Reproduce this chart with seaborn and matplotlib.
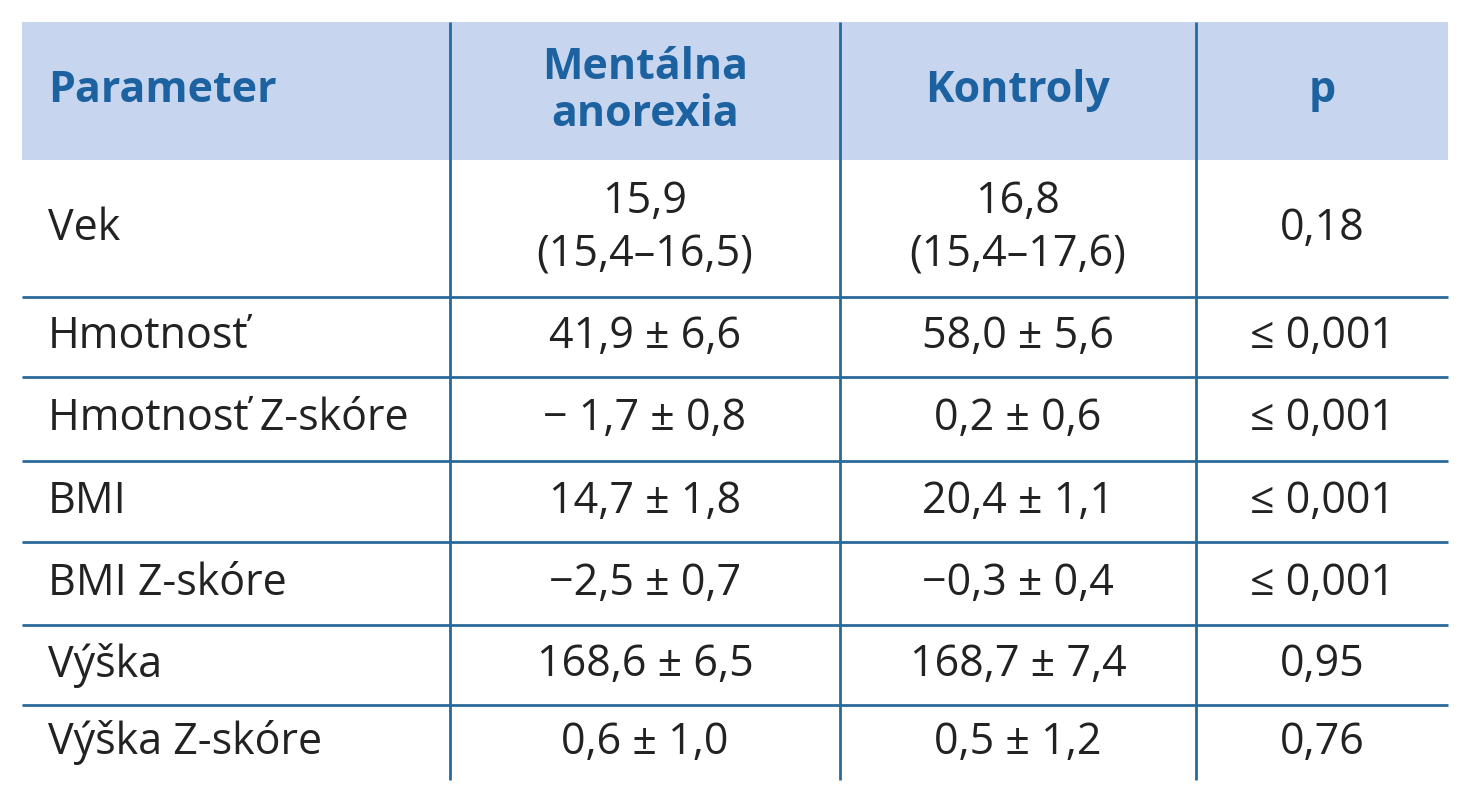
import matplotlib.pyplot as plt
import seaborn as sns

header = ['Parameter', 'Mentálna\nanorexia', 'Kontroly', 'p']
parameters = ['Vek', 'Hmotnosť', 'Hmotnosť Z-skóre', 'BMI', 'BMI Z-skóre',
              'Výška', 'Výška Z-skóre']
anorexia = ['15,9\n(15,4–16,5)', '41,9 ± 6,6', '− 1,7 ± 0,8', '14,7 ± 1,8',
            '−2,5 ± 0,7', '168,6 ± 6,5', '0,6 ± 1,0']
controls = ['16,8\n(15,4–17,6)', '58,0 ± 5,6', '0,2 ± 0,6', '20,4 ± 1,1',
            '−0,3 ± 0,4', '168,7 ± 7,4', '0,5 ± 1,2']
p_values = ['0,18', '≤ 0,001', '≤ 0,001', '≤ 0,001', '≤ 0,001', '0,95', '0,76']

# layout in pixels
col_edges = [22, 450, 840, 1196, 1448]
row_edges = [22, 160, 297, 377, 461, 542, 625, 705, 780]
blue = '#1d62a0'
head_bg = '#c7d6ee'
line_c = '#2a6a9a'

sns.set_style('white')
plt.rcParams['font.family'] = ['Liberation Sans Narrow', 'Open Sans', 'DejaVu Sans']

fig = plt.figure(figsize=(14.84, 8), dpi=100)
ax = fig.add_axes([0, 0, 1, 1])
ax.set_xlim(0, 1484)
ax.set_ylim(800, 0)
ax.axis('off')

ax.fill_between([col_edges[0], col_edges[-1]], row_edges[0], row_edges[1],
                color=head_bg, lw=0)
ax.vlines(col_edges[1:-1], row_edges[0], row_edges[-1], color=line_c, lw=2)
ax.hlines(row_edges[2:-1], col_edges[0], col_edges[-1], color=line_c, lw=2)

fs = 31
for j, h in enumerate(header):
    yc = (row_edges[0] + row_edges[1]) / 2
    if j == 0:
        ax.text(col_edges[0] + 26, yc, h, ha='left', va='center', fontsize=fs,
                fontweight='bold', color=blue, linespacing=1.15)
    else:
        ax.text((col_edges[j] + col_edges[j + 1]) / 2, yc, h, ha='center',
                va='center', fontsize=fs, fontweight='bold', color=blue,
                linespacing=1.15)

rows = list(zip(parameters, anorexia, controls, p_values))
for i, row in enumerate(rows):
    yc = (row_edges[i + 1] + row_edges[i + 2]) / 2
    for j, val in enumerate(row):
        if j == 0:
            ax.text(col_edges[0] + 26, yc, val, ha='left', va='center',
                    fontsize=fs, color='#222222')
        else:
            ax.text((col_edges[j] + col_edges[j + 1]) / 2, yc, val,
                    ha='center', va='center', fontsize=fs, color='#222222',
                    linespacing=1.25)

fig.savefig('out.png', dpi=100)
